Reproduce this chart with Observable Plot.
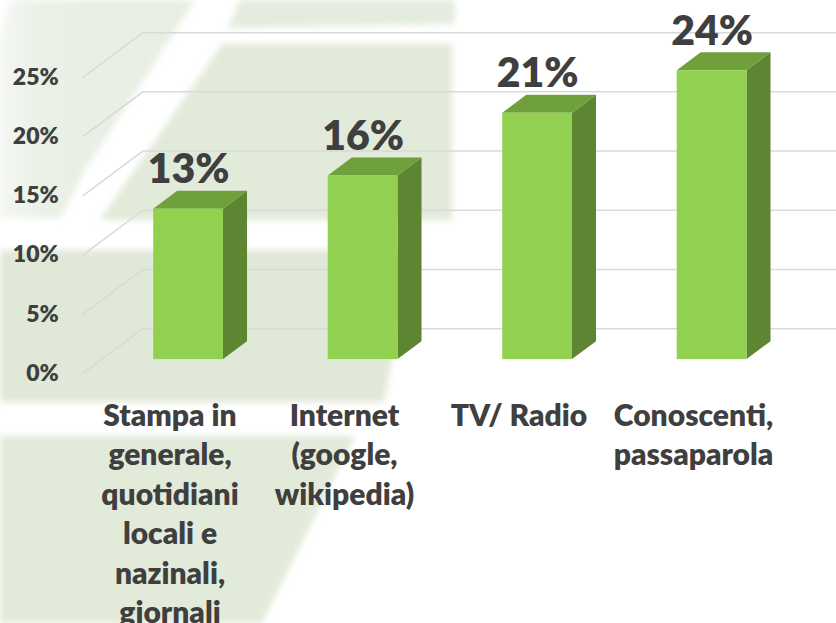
<!DOCTYPE html>
<html><head><meta charset="utf-8">
<script src="https://cdn.jsdelivr.net/npm/d3@7"></script>
<script src="https://cdn.jsdelivr.net/npm/@observablehq/plot@0.6"></script>
<style>
html,body{margin:0;padding:0;background:#fff;}
#wrap{position:relative;width:836px;height:623px;overflow:hidden;background:#fff;}
#bg{position:absolute;left:0;top:0;filter:blur(3px);}
#chart{position:absolute;left:0;top:0;}
</style></head><body>
<div id="wrap">
<svg id="bg" width="836" height="623">
  <defs>
    <linearGradient id="g1" x1="0" x2="1" y1="0" y2="0">
      <stop offset="0" stop-color="#f4f7f2"/>
      <stop offset="0.25" stop-color="#e9f0e5"/>
      <stop offset="1" stop-color="#e7eee2"/>
    </linearGradient>
  </defs>
  <polygon points="10,0 195,0 85,170 60,218 0,218 0,40" fill="url(#g1)"/>
  <polygon points="240,0 455,0 455,24 228,28" fill="#e4ecde"/>
  <polygon points="222,44 452,44 452,220 100,220" fill="#e2ebda"/>
  <polygon points="0,250 420,250 392,360 384,402 0,402" fill="#e0e9d7"/>
  <polygon points="0,436 355,436 262,623 0,623" fill="#e2ebda"/>
</svg>
<div id="chart"></div>
</div>
<script>
// ---- data ----
const categories = [
  "Stampa in\ngenerale,\nquotidiani\nlocali e\nnazinali,\ngiornali",
  "Internet\n(google,\nwikipedia)",
  "TV/ Radio",
  "Conoscenti,\npassaparola"
];
const values = [12.7, 15.5, 20.8, 24.4];
const yTicks = [0, 5, 10, 15, 20, 25];

// ---- oblique 3D projection (in scale units) ----
const DEPTH_X = 0.344;   // x-units of full floor depth
const DEPTH_Y = 3.79;    // y-units of full floor depth
const BAR_FRONT = 0.31, BAR_BACK = 0.71, BAR_HALF = 0.2;
const fx = BAR_FRONT * DEPTH_X, fy = BAR_FRONT * DEPTH_Y;
const bx = BAR_BACK * DEPTH_X, by = BAR_BACK * DEPTH_Y;
const ddx = bx - fx;

const bars = categories.map((c, i) => ({i, cat: c, v: values[i]}));
const sideFaces = bars.flatMap(d => [
  {id: d.i, x: d.i + fx + BAR_HALF, y1: fy, y2: d.v + fy},
  {id: d.i, x: d.i + bx + BAR_HALF, y1: by, y2: d.v + by}
]);
const topFaces = bars.flatMap(d => {
  const xl = d.i + fx - BAR_HALF, xr = d.i + fx + BAR_HALF;
  return [
    {id: d.i, x: xl, y1: d.v + fy, y2: d.v + fy},
    {id: d.i, x: xl + ddx, y1: d.v + fy, y2: d.v + by},
    {id: d.i, x: xr, y1: d.v + fy, y2: d.v + by},
    {id: d.i, x: xr + ddx, y1: d.v + by, y2: d.v + by}
  ];
});

const grid = "#d9d9d9";
const txt = "#3f3f3f";

const chart = Plot.plot({
  width: 836,
  height: 623,
  marginLeft: 82.25,
  marginRight: 55.75,
  marginTop: 77,
  marginBottom: 250,
  style: {fontFamily: "Lato, 'Open Sans', sans-serif", background: "transparent", overflow: "visible"},
  x: {domain: [-0.5, 3.5], axis: null},
  y: {domain: [0, 25]},
  marks: [
    Plot.link(yTicks, {x1: () => -0.5, y1: d => d, x2: () => -0.5 + DEPTH_X, y2: d => d + DEPTH_Y, stroke: grid, strokeWidth: 1.5}),
    Plot.link(yTicks, {x1: () => -0.5 + DEPTH_X, y1: d => d + DEPTH_Y, x2: () => 3.5 + DEPTH_X, y2: d => d + DEPTH_Y, stroke: grid, strokeWidth: 1.5}),
    Plot.axisY(yTicks, {tickFormat: d => d + "%", tickSize: 0, tickPadding: 24, fontSize: 23, fontWeight: 800, fill: txt, label: null}),
    Plot.axisX([0, 1, 2, 3], {anchor: "bottom", tickFormat: i => categories[i], tickSize: 0, tickPadding: 24, fontSize: 30, fontWeight: 800, lineHeight: 39.5 / 30, fill: txt, label: null}),
    Plot.area(sideFaces, {x1: "x", y1: "y1", y2: "y2", z: "id", fill: "#5e8532", curve: "linear"}),
    Plot.area(topFaces, {x1: "x", y1: "y1", y2: "y2", z: "id", fill: "#70a03c", curve: "linear"}),
    Plot.rect(bars, {x1: d => d.i + fx - BAR_HALF, x2: d => d.i + fx + BAR_HALF, y1: () => fy, y2: d => d.v + fy, fill: "#92d050"}),
    Plot.text(bars, {x: d => d.i + fx, y: d => d.v + by, text: d => Math.round(d.v) + "%", dy: -8, lineAnchor: "bottom", fontSize: 41, fontWeight: 800, fill: txt})
  ]
});
document.getElementById("chart").appendChild(chart);
</script>
</body></html>
